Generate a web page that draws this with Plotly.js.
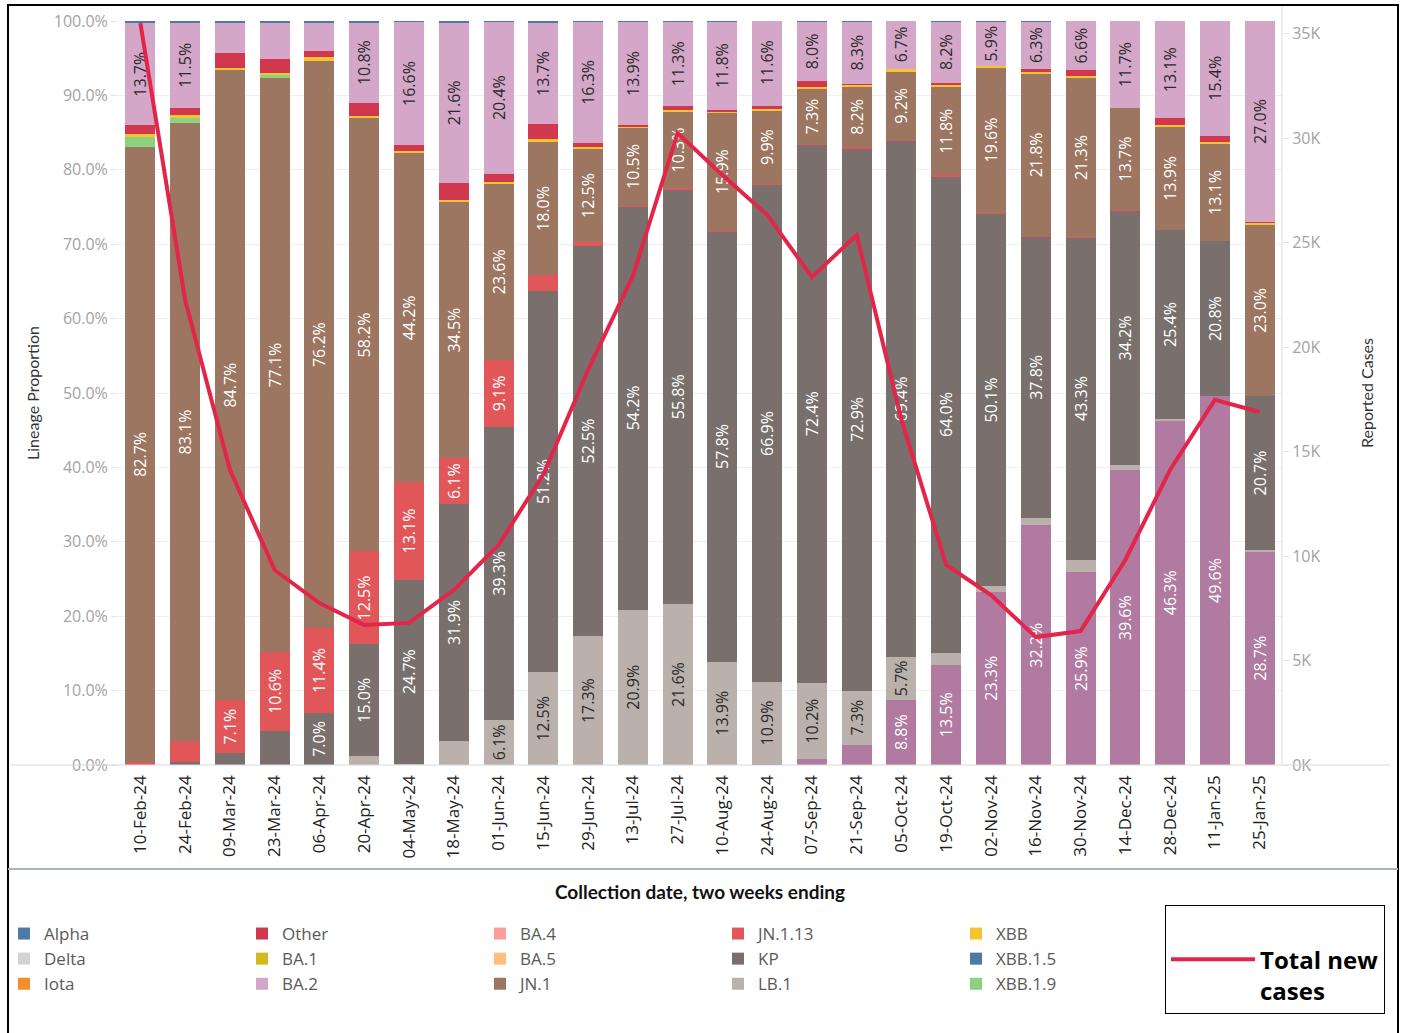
<!DOCTYPE html>
<html>
<head>
<meta charset="utf-8">
<script src="https://cdn.plot.ly/plotly-3.0.1.min.js"></script>
<style>html,body{margin:0;padding:0;background:#fff;}#chart{width:1401px;height:1033px;}</style>
</head>
<body>
<div id="chart"></div>
<script>
// ---- Data ----
const categories = ['10-Feb-24','24-Feb-24','09-Mar-24','23-Mar-24','06-Apr-24','20-Apr-24','04-May-24','18-May-24','01-Jun-24','15-Jun-24','29-Jun-24','13-Jul-24','27-Jul-24','10-Aug-24','24-Aug-24','07-Sep-24','21-Sep-24','05-Oct-24','19-Oct-24','02-Nov-24','16-Nov-24','30-Nov-24','14-Dec-24','28-Dec-24','11-Jan-25','25-Jan-25'];

// Lineage proportions (%) per two-week period, in stacking order bottom -> top
const XEC     = [0,0,0,0,0,0,0,0,0,0,0,0,0,0,0.2,0.8,2.7,8.8,13.5,23.3,32.2,25.9,39.6,46.3,49.6,28.7];
const LB1     = [0,0,0,0,0,1.2,0.2,3.2,6.1,12.5,17.3,20.9,21.6,13.9,10.9,10.2,7.3,5.7,1.6,0.7,1.0,1.7,0.7,0.2,0,0.2];
const KP      = [0,0.4,1.6,4.6,7.0,15.0,24.7,31.9,39.3,51.2,52.5,54.2,55.8,57.8,66.9,72.4,72.9,69.4,64.0,50.1,37.8,43.3,34.2,25.4,20.8,20.7];
const JN113   = [0.4,2.8,7.1,10.6,11.4,12.5,13.1,6.1,9.1,2.1,0.5,0.1,0.1,0.1,0.1,0.1,0.1,0.1,0.2,0.1,0.1,0.1,0.1,0,0,0];
const JN1     = [82.7,83.1,84.7,77.1,76.2,58.2,44.2,34.5,23.6,18.0,12.5,10.5,10.3,15.9,9.9,7.3,8.2,9.2,11.8,19.6,21.8,21.3,13.7,13.9,13.1,23.0];
const XBB19   = [1.3,0.7,0,0.4,0,0,0,0,0,0,0,0,0,0,0,0,0,0,0,0,0,0,0,0,0,0];
const XBB     = [0.4,0.4,0.3,0.3,0.5,0.3,0.3,0.3,0.3,0.3,0.3,0.1,0.2,0.2,0.2,0.3,0.2,0.3,0.3,0.2,0.3,0.3,0,0.2,0.2,0.3];
const Other   = [1.2,0.9,2.0,1.9,0.9,1.8,0.8,2.2,1.1,2.0,0.5,0.2,0.6,0.2,0.4,0.8,0.2,0,0.3,0,0.4,0.8,0,0.9,0.9,0.1];
const BA2     = [13.7,11.5,4.1,4.9,3.8,10.8,16.6,21.6,20.4,13.7,16.3,13.9,11.3,11.8,11.6,8.0,8.3,6.7,8.2,5.9,6.3,6.6,11.7,13.1,15.4,27.0];
const XBB15   = [0.3,0.2,0.2,0.2,0.2,0.2,0.1,0.2,0.1,0.2,0.1,0.1,0.1,0.1,0.1,0.1,0.1,0.1,0.1,0.1,0.1,0.1,0.1,0.1,0.1,0.1];
// Lineages listed in the legend with no visible share in this period
const Alpha   = [0,0,0,0,0,0,0,0,0,0,0,0,0,0,0,0,0,0,0,0,0,0,0,0,0,0];
const Delta   = [0,0,0,0,0,0,0,0,0,0,0,0,0,0,0,0,0,0,0,0,0,0,0,0,0,0];
const Iota    = [0,0,0,0,0,0,0,0,0,0,0,0,0,0,0,0,0,0,0,0,0,0,0,0,0,0];
const BA1     = [0,0,0,0,0,0,0,0,0,0,0,0,0,0,0,0,0,0,0,0,0,0,0,0,0,0];
const BA4     = [0,0,0,0,0,0,0,0,0,0,0,0,0,0,0,0,0,0,0,0,0,0,0,0,0,0];
const BA5     = [0,0,0,0,0,0,0,0,0,0,0,0,0,0,0,0,0,0,0,0,0,0,0,0,0,0];

// Total new reported cases (right axis)
const totalCases = [35500,22250,14120,9330,7750,6700,6800,8370,10530,13900,18900,23400,30240,28230,26320,23350,25360,16510,9570,8130,6120,6410,9810,14120,17470,16890];

// Right axis tick labels
const caseTickVals = [0,5000,10000,15000,20000,25000,30000,35000];
const caseTickText = ['0K','5K','10K','15K','20K','25K','30K','35K'];

// ---- Helpers ----
const L = 118, R = 1282, T = 21, B = 765;
const px2x = p => (p - L) / (R - L);
const px2y = p => (B - p) / (B - T);
const lbl = arr => arr.map(v => v >= 5.5 ? v.toFixed(1) + '%' : '');

function barTrace(name, y, color, textColor, rank, showlegend) {
  return {
    type: 'bar', name: name, x: categories, y: y,
    marker: {color: color, line: {width: 0}},
    text: lbl(y), texttemplate: '%{text}', textposition: 'inside',
    insidetextanchor: 'middle', textangle: -90,
    textfont: {family: 'Open Sans, sans-serif', size: 16, color: textColor},
    legendrank: rank, showlegend: showlegend !== false,
    hovertemplate: name + ' %{x}: %{y:.1f}%<extra></extra>'
  };
}

const data = [
  barTrace('XEC', XEC, '#B07AA1', '#FFFFFF', 99, false),
  barTrace('LB.1', LB1, '#BAB0AC', '#2B2B2B', 14),
  barTrace('KP', KP, '#79706E', '#FFFFFF', 9),
  barTrace('JN.1.13', JN113, '#E15759', '#FFFFFF', 4),
  barTrace('JN.1', JN1, '#9C7660', '#FFFFFF', 13),
  barTrace('XBB.1.9', XBB19, '#8CD17D', '#2B2B2B', 15),
  barTrace('XBB', XBB, '#F4C52E', '#2B2B2B', 5),
  barTrace('Other', Other, '#D1384F', '#FFFFFF', 2),
  barTrace('BA.2', BA2, '#D4A6C8', '#2B2B2B', 12),
  barTrace('XBB.1.5', XBB15, '#4E79A7', '#FFFFFF', 10),
  barTrace('Alpha', Alpha, '#4E79A7', '#FFFFFF', 1),
  barTrace('Delta', Delta, '#D3D3D3', '#2B2B2B', 6),
  barTrace('Iota', Iota, '#F28E2B', '#2B2B2B', 11),
  barTrace('BA.1', BA1, '#D2BA1E', '#2B2B2B', 7),
  barTrace('BA.4', BA4, '#FF9D9A', '#2B2B2B', 3),
  barTrace('BA.5', BA5, '#FFBE7D', '#2B2B2B', 8),
  {
    type: 'scatter', mode: 'lines', name: '<br>Total new<br>cases',
    x: categories, y: totalCases, yaxis: 'y2',
    line: {color: '#E3254A', width: 4}, legend: 'legend2',
    hovertemplate: 'Total new cases %{x}: %{y:,}<extra></extra>'
  }
];

const layout = {
  width: 1401, height: 1033,
  margin: {l: L, r: 1401 - R, t: T, b: 1033 - B, pad: 0, autoexpand: false},
  barmode: 'stack', bargap: 0.33,
  paper_bgcolor: '#FFFFFF', plot_bgcolor: '#FFFFFF',
  font: {family: 'Open Sans, sans-serif', color: '#333'},
  xaxis: {
    type: 'category', tickangle: -90, ticks: '', ticklabelstandoff: 6,
    tickfont: {size: 17, color: '#222'}, showline: false, showgrid: false,
    automargin: true,
    title: {text: 'Collection date, two weeks ending', standoff: 28,
            font: {family: 'Lato, sans-serif', size: 19, color: '#111', weight: 'bold'}}
  },
  yaxis: {
    range: [0, 100], dtick: 10, tickformat: '.1f', ticksuffix: '%',
    tickfont: {size: 16, color: '#A3A3A3'}, gridcolor: '#EFEFEF', gridwidth: 1,
    zeroline: false, showline: false, ticks: 'outside', ticklen: 6, tickcolor: '#E3E3E3',
    automargin: true,
    title: {text: 'Lineage Proportion', standoff: 10, font: {family: 'Lato, sans-serif', size: 16, color: '#333'}}
  },
  yaxis2: {
    overlaying: 'y', side: 'right', range: [0, 35600],
    tickvals: caseTickVals, ticktext: caseTickText,
    tickfont: {size: 16, color: '#A3A3A3'}, showgrid: false, zeroline: false,
    ticks: 'outside', ticklen: 6, tickcolor: '#E3E3E3', showline: false,
    automargin: true,
    title: {text: 'Reported Cases', standoff: 42, font: {family: 'Lato, sans-serif', size: 16, color: '#333'}}
  },
  showlegend: true,
  legend: {
    orientation: 'h', x: px2x(4), xanchor: 'left', y: px2y(916), yanchor: 'top',
    entrywidth: 193, entrywidthmode: 'pixels', traceorder: 'normal',
    font: {family: 'Open Sans, sans-serif', size: 17, color: '#5A5A5A'},
    bgcolor: 'rgba(0,0,0,0)'
  },
  legend2: {
    x: px2x(1165), xanchor: 'left', y: px2y(905), yanchor: 'top',
    bordercolor: '#000000', borderwidth: 1, itemwidth: 84, bgcolor: '#FFFFFF',
    font: {family: 'Open Sans, sans-serif', size: 24, color: '#000', weight: 'bold'}
  },
  shapes: [
    {type: 'rect', xref: 'paper', yref: 'paper', x0: px2x(8), x1: px2x(1398), y0: px2y(1045), y1: px2y(5),
     line: {color: '#000', width: 2}, fillcolor: 'rgba(0,0,0,0)', layer: 'above'},
    {type: 'line', xref: 'paper', yref: 'paper', x0: px2x(8), x1: px2x(1398), y0: px2y(869), y1: px2y(869),
     line: {color: '#A8B3C0', width: 2}},
    {type: 'line', xref: 'paper', yref: 'paper', x0: px2x(10), x1: px2x(1390), y0: px2y(765), y1: px2y(765),
     line: {color: '#D9D9D9', width: 1}},
    {type: 'line', xref: 'paper', yref: 'paper', x0: px2x(1282), x1: px2x(1282), y0: px2y(765), y1: px2y(6),
     line: {color: '#DDDDDD', width: 1}}
  ]
};

Plotly.newPlot('chart', data, layout, {displayModeBar: false, responsive: false});
</script>
</body>
</html>
